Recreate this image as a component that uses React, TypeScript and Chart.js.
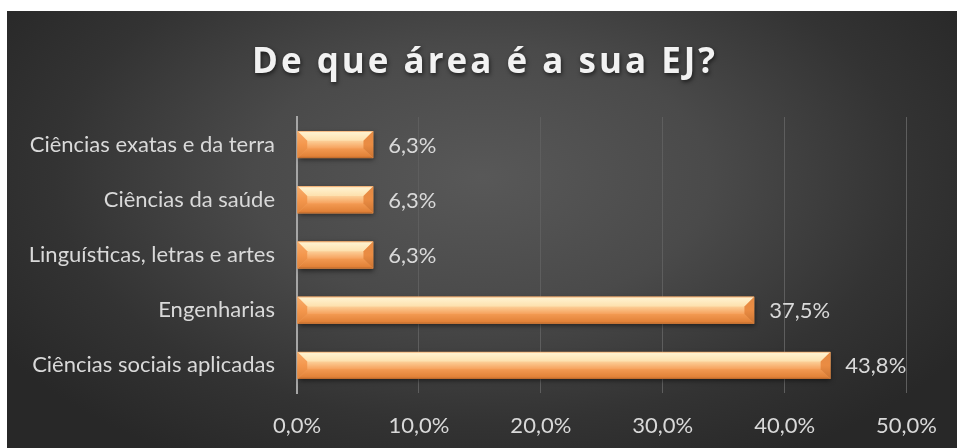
import React, { useEffect, useRef } from "react";
import { Chart, registerables } from "chart.js";

Chart.register(...registerables);

const TITLE = "De que área é a sua EJ?";
const categories = [
  "Ciências exatas e da terra",
  "Ciências da saúde",
  "Linguísticas, letras e artes",
  "Engenharias",
  "Ciências sociais aplicadas",
];
const values = [6.25, 6.25, 6.25, 37.5, 43.75];
const xMin = 0;
const xMax = 50;
const xStep = 10;

const fmt = (v: number) => v.toFixed(1).replace(".", ",") + "%";
const FONT = "Lato, 'Open Sans', sans-serif";
const FS = 22;

const barPlugin = {
  id: "bevelBars",
  afterDatasetsDraw(chart: any) {
    const ctx: CanvasRenderingContext2D = chart.ctx;
    const meta = chart.getDatasetMeta(0);
    meta.data.forEach((el: any, i: number) => {
      const left = Math.min(el.base, el.x);
      const right = Math.max(el.base, el.x);
      const top = el.y - el.height / 2;
      const bottom = el.y + el.height / 2;
      const h = bottom - top;
      const b = Math.min(h * 0.36, (right - left) / 2);
      ctx.save();
      ctx.shadowColor = "rgba(0,0,0,0.55)";
      ctx.shadowBlur = 5;
      ctx.shadowOffsetX = 1;
      ctx.shadowOffsetY = 2;
      ctx.fillStyle = "#e8893f";
      ctx.fillRect(left, top, right - left, h);
      ctx.restore();
      ctx.save();
      // middle face
      const gm = ctx.createLinearGradient(0, top + b, 0, bottom - b);
      gm.addColorStop(0, "#fccf98");
      gm.addColorStop(1, "#f6a15c");
      ctx.fillStyle = gm;
      ctx.fillRect(left, top, right - left, h);
      // top facet
      const gt = ctx.createLinearGradient(0, top, 0, top + b);
      gt.addColorStop(0, "#f3a868");
      gt.addColorStop(0.15, "#fff2cf");
      gt.addColorStop(1, "#fde0ad");
      ctx.fillStyle = gt;
      ctx.beginPath();
      ctx.moveTo(left, top);
      ctx.lineTo(right, top);
      ctx.lineTo(right - b, top + b);
      ctx.lineTo(left + b, top + b);
      ctx.closePath();
      ctx.fill();
      // bottom facet
      const gb = ctx.createLinearGradient(0, bottom - b, 0, bottom);
      gb.addColorStop(0, "#f39a52");
      gb.addColorStop(0.8, "#e28238");
      gb.addColorStop(1, "#b8662a");
      ctx.fillStyle = gb;
      ctx.beginPath();
      ctx.moveTo(left, bottom);
      ctx.lineTo(right, bottom);
      ctx.lineTo(right - b, bottom - b);
      ctx.lineTo(left + b, bottom - b);
      ctx.closePath();
      ctx.fill();
      // left facet
      const gl = ctx.createLinearGradient(0, top, 0, bottom);
      gl.addColorStop(0, "#f7ad6c");
      gl.addColorStop(0.5, "#f4974d");
      gl.addColorStop(1, "#e0843c");
      ctx.fillStyle = gl;
      ctx.beginPath();
      ctx.moveTo(left, top);
      ctx.lineTo(left + b, top + b);
      ctx.lineTo(left + b, bottom - b);
      ctx.lineTo(left, bottom);
      ctx.closePath();
      ctx.fill();
      // right facet
      const gr = ctx.createLinearGradient(0, top, 0, bottom);
      gr.addColorStop(0, "#e58a44");
      gr.addColorStop(0.5, "#ea8c43");
      gr.addColorStop(1, "#cc7432");
      ctx.fillStyle = gr;
      ctx.beginPath();
      ctx.moveTo(right, top);
      ctx.lineTo(right - b, top + b);
      ctx.lineTo(right - b, bottom - b);
      ctx.lineTo(right, bottom);
      ctx.closePath();
      ctx.fill();
      ctx.restore();
      // label
      ctx.save();
      ctx.font = `${FS}px ${FONT}`;
      ctx.fillStyle = "#d9d9d9";
      ctx.textAlign = "left";
      ctx.textBaseline = "middle";
      ctx.fillText(fmt(values[i]), right + 15, el.y + 1);
      ctx.restore();
    });
  },
};

const titlePlugin = {
  id: "customTitle",
  afterDraw(chart: any) {
    const ctx: any = chart.ctx;
    ctx.save();
    ctx.font = `bold 35px 'Open Sans', sans-serif`;
    try {
      ctx.letterSpacing = "3px";
    } catch (e) {}
    ctx.fillStyle = "#f2f2f2";
    ctx.textAlign = "center";
    ctx.textBaseline = "alphabetic";
    ctx.shadowColor = "rgba(0,0,0,0.6)";
    ctx.shadowBlur = 4;
    ctx.shadowOffsetX = 1;
    ctx.shadowOffsetY = 2;
    ctx.fillText(TITLE, chart.width / 2 + 3, 62);
    ctx.restore();
  },
};

export default function App() {
  const ref = useRef<HTMLCanvasElement>(null);
  useEffect(() => {
    if (!ref.current) return;
    const chart = new Chart(ref.current, {
      type: "bar",
      data: {
        labels: categories,
        datasets: [
          {
            data: values,
            backgroundColor: "rgba(0,0,0,0)",
            borderWidth: 0,
            barPercentage: 0.49,
            categoryPercentage: 1,
          },
        ],
      },
      plugins: [barPlugin, titlePlugin],
      options: {
        indexAxis: "y",
        animation: false,
        responsive: true,
        maintainAspectRatio: false,
        events: [],
        layout: { padding: { top: 106, right: 48, left: 0, bottom: 0 } },
        plugins: {
          legend: { display: false },
          tooltip: { enabled: false },
          title: { display: false },
        },
        scales: {
          x: {
            min: xMin,
            max: xMax,
            ticks: {
              stepSize: xStep,
              color: "#d9d9d9",
              font: { family: FONT, size: FS },
              padding: 20,
              callback: (v: any) => fmt(Number(v)),
            },
            grid: { color: "#5e5e5e", lineWidth: 1, drawTicks: false },
            border: { display: false },
            afterFit: (s: any) => {
              s.height = 55;
            },
          },
          y: {
            ticks: {
              color: "#d9d9d9",
              font: { family: FONT, size: FS },
              padding: 22,
            },
            grid: { display: false, drawTicks: false },
            border: { color: "#a6a6a6", width: 2 },
            afterFit: (s: any) => {
              s.width = 290;
            },
          },
        },
      } as any,
    });
    return () => chart.destroy();
  }, []);
  return (
    <div
      style={{
        position: "fixed",
        left: 7,
        top: 11,
        width: 950,
        height: 437,
        background:
          "radial-gradient(ellipse 60% 75% at 50% 38%, #585858 0%, #4a4a4a 40%, #333333 75%, #282828 100%)",
      }}
    >
      <canvas ref={ref} />
    </div>
  );
}
